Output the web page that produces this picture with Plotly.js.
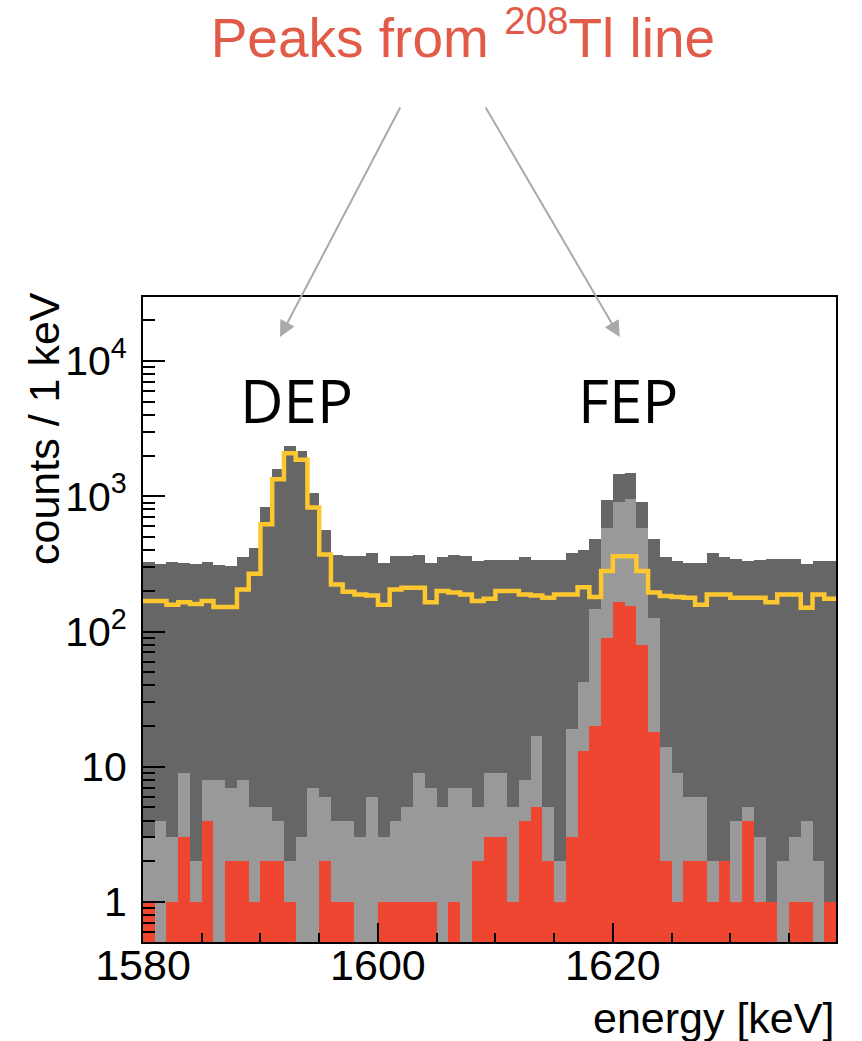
<!DOCTYPE html>
<html>
<head>
<meta charset="utf-8">
<script src="https://cdn.plot.ly/plotly-3.0.1.min.js"></script>
<style>
html,body{margin:0;padding:0;background:#ffffff;}
#chart{width:862px;height:1041px;}
</style>
</head>
<body>
<div id="chart"></div>
<script>
// Lower edges of the 1 keV bins
const binStart = [1580,1581,1582,1583,1584,1585,1586,1587,1588,1589,
                  1590,1591,1592,1593,1594,1595,1596,1597,1598,1599,
                  1600,1601,1602,1603,1604,1605,1606,1607,1608,1609,
                  1610,1611,1612,1613,1614,1615,1616,1617,1618,1619,
                  1620,1621,1622,1623,1624,1625,1626,1627,1628,1629,
                  1630,1631,1632,1633,1634,1635,1636,1637,1638];

// All events (dark grey)
const allCounts = [326,318,326,320,318,325,310,305,357,417,
                   836,1585,2360,2150,1065,563,370,360,365,378,
                   323,360,360,370,320,355,370,362,330,340,
                   336,336,357,340,337,340,380,398,485,945,
                   1456,1497,907,480,358,335,319,319,378,357,
                   345,330,340,345,345,345,314,335,335];

// After first cut (light grey)
const cutCounts = [3,4,3,9,2,8,8,7,8,5,
                   5,4,2,3,7,6,4,4,3,6,
                   3,4,5,9,7,5,7,7,5,9,
                   9,5,8,17,5,2,19,42,147,587,
                   907,962,587,126,14,9,6,6,2,2,
                   4,5,3,1,2,3,4,2,1];

// After second cut (red)
const finalCounts = [1,0,1,3,1,4,0,2,2,1,
                     2,2,1,0,0,2,1,1,0,0,
                     1,1,1,1,1,0,1,0,2,3,
                     3,1,4,5,2,1,3,13,20,89,
                     165,154,80,18,2,1,2,2,1,2,
                     1,4,1,1,0,1,1,0,1];

// Yellow outline histogram
const outlineCounts = [168,168,158,165,160,168,152,152,205,268,
                       621,1336,2080,1860,825,372,223,197,188,185,
                       158,205,211,211,165,199,194,188,168,175,
                       199,199,188,185,178,188,188,213,180,280,
                       361,361,280,194,183,180,178,158,188,188,
                       178,178,178,165,188,188,150,188,175];

const yTickVals = [1, 10, 100, 1000, 10000];
const yTickText = ['1', '10', '10<sup>2</sup>', '10<sup>3</sup>', '10<sup>4</sup>'];

const nz = arr => arr.map(v => (v > 0 ? v : null));

const yMinor = [];
[0.1, 1, 10, 100, 1000, 10000].forEach(dec => {
  for (let m = 2; m <= 9; m++) yMinor.push(m * dec);
});

const lastEdge = binStart[binStart.length - 1] + 1;

const barCommon = {type: 'bar', width: 1, offset: 0, hoverinfo: 'skip'};

const traces = [
  Object.assign({}, barCommon, {x: binStart, y: nz(allCounts), name: 'all',
    marker: {color: '#666666', line: {width: 0}}}),
  Object.assign({}, barCommon, {x: binStart, y: nz(cutCounts), name: 'cut 1',
    marker: {color: '#999999', line: {width: 0}}}),
  Object.assign({}, barCommon, {x: binStart, y: nz(finalCounts), name: 'cut 2',
    marker: {color: '#EE4630', line: {width: 0}}}),
  {type: 'scatter', mode: 'lines', name: 'outline',
   x: binStart.concat([lastEdge]),
   y: outlineCounts.concat([outlineCounts[outlineCounts.length - 1]]),
   line: {shape: 'hv', color: '#FDC82F', width: 4.5}, hoverinfo: 'skip'}
];

const fontFam = '"Liberation Sans", Arial, Helvetica, sans-serif';
const axisFont = {family: fontFam, size: 43, color: '#000000'};
const yTickFont = {family: fontFam, size: 41, color: '#000000'};

const layout = {
  width: 862, height: 1041,
  margin: {l: 143, r: 26, t: 297, b: 99, pad: 0},
  paper_bgcolor: '#ffffff', plot_bgcolor: '#ffffff',
  showlegend: false,
  barmode: 'overlay', bargap: 0,
  title: {
    text: 'Peaks from <sup>208</sup>Tl line',
    font: {family: fontFam, size: 55, color: '#E25A48'},
    x: 0.537, xanchor: 'center', xref: 'container',
    y: 1 - 38 / 1041, yanchor: 'middle', yref: 'container'
  },
  xaxis: {
    range: [1580, 1639], type: 'linear',
    tickmode: 'linear', tick0: 1580, dtick: 20,
    ticks: 'inside', ticklen: 19, tickwidth: 2, tickcolor: '#000000',
    minor: {tick0: 1580, dtick: 5, ticks: 'inside', ticklen: 9, tickwidth: 2, tickcolor: '#000000', showgrid: false},
    showline: true, mirror: true, linecolor: '#000000', linewidth: 2,
    showgrid: false, zeroline: false,
    tickfont: axisFont, ticklabelstandoff: -16
  },
  yaxis: {
    type: 'log', range: [-0.296, 4.474],
    tickmode: 'array', tickvals: yTickVals, ticktext: yTickText,
    ticks: 'inside', ticklen: 22, tickwidth: 2, tickcolor: '#000000',
    minor: {tickmode: 'array', tickvals: yMinor, ticks: 'inside', ticklen: 12, tickwidth: 2, tickcolor: '#000000', showgrid: false},
    showline: true, mirror: true, linecolor: '#000000', linewidth: 2,
    showgrid: false, zeroline: false,
    tickfont: yTickFont, ticklabelstandoff: 6
  },
  annotations: [
    {text: 'counts / 1 keV', xref: 'paper', yref: 'paper', x: -0.142, y: 1.011,
     xanchor: 'center', yanchor: 'top', textangle: -90, showarrow: false, font: axisFont},
    {text: 'energy [keV]', xref: 'paper', yref: 'paper', x: 1.0, y: -0.118,
     xanchor: 'right', yanchor: 'middle', showarrow: false, font: axisFont},
    {text: 'DEP', xref: 'paper', yref: 'paper', x: 0.222, y: 0.840,
     xanchor: 'center', yanchor: 'middle', showarrow: false,
     font: {family: '"Open Sans", "Noto Sans", sans-serif', size: 60, color: '#000000'}},
    {text: 'FEP', xref: 'paper', yref: 'paper', x: 0.700, y: 0.840,
     xanchor: 'center', yanchor: 'middle', showarrow: false,
     font: {family: '"Open Sans", "Noto Sans", sans-serif', size: 60, color: '#000000'}},
    {text: '', xref: 'paper', yref: 'paper', x: 0.1977, y: 0.938, ax: 121, ay: -231,
     showarrow: true, arrowhead: 2, arrowsize: 1.6, arrowwidth: 2, arrowcolor: '#AAAAAA', standoff: 0, startstandoff: 0},
    {text: '', xref: 'paper', yref: 'paper', x: 0.688, y: 0.938, ax: -135, ay: -231,
     showarrow: true, arrowhead: 2, arrowsize: 1.6, arrowwidth: 2, arrowcolor: '#AAAAAA', standoff: 0, startstandoff: 0}
  ]
};

Plotly.newPlot('chart', traces, layout, {displayModeBar: false, staticPlot: true});
</script>
</body>
</html>
